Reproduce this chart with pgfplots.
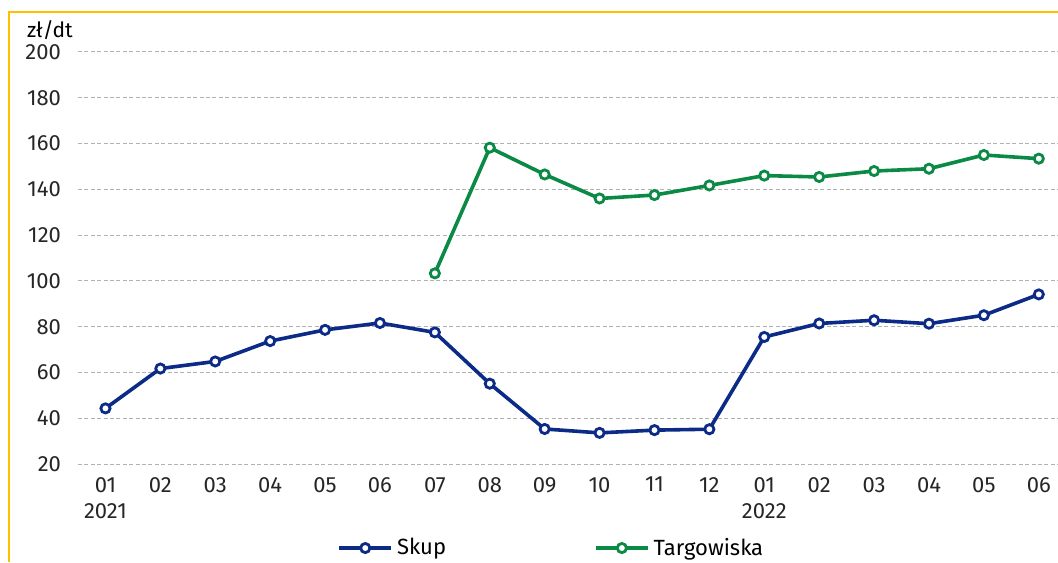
\documentclass[border=0pt]{standalone}
\usepackage{fontspec}
\setmainfont{Fira Sans}
\usepackage{pgfplots}
\pgfplotsset{compat=1.18}
\definecolor{skup}{HTML}{0B2B86}
\definecolor{targ}{HTML}{0A8A45}
\definecolor{framey}{HTML}{FFC000}
\begin{document}
\begin{tikzpicture}
\useasboundingbox (0,0) rectangle (529pt,281pt);
\draw[framey, line width=0.8pt] (4.5pt,0pt) -- (4.5pt,275pt) -- (529pt,275pt);
\node[font=\fontsize{10.5}{12}\selectfont, anchor=center] at (25pt,266pt) {zł/dt};
\begin{axis}[
  at={(39pt,49pt)}, anchor=south west,
  width=490pt, height=206pt, scale only axis,
  xmin=-0.5, xmax=17.35, ymin=20, ymax=200,
  ytick={20,40,...,200},
  xtick={0,...,17},
  xticklabels={{01\\2021},02,03,04,05,06,07,08,09,10,11,12,{01\\2022},02,03,04,05,06},
  x tick label style={align=center, anchor=north, yshift=-3pt},
  y tick label style={xshift=-5pt},
  /pgf/number format/assume math mode=true,
  tick label style={font=\fontsize{11}{13}\selectfont, text=black!85},
  ymajorgrids, grid style={dash pattern=on 2pt off 1.2pt, black!30, line width=0.5pt},
  axis line style={draw=none}, major tick length=0pt,
  clip=false,
  legend style={at={(0.484,-0.204)}, anchor=center, draw=none, fill=none,
    legend columns=2, font=\fontsize{11}{13}\selectfont,
    /tikz/every even column/.append style={column sep=72pt}},
  legend image code/.code={\draw[mark repeat=2,mark phase=2,#1] plot coordinates {(0pt,0pt) (13pt,0pt) (26pt,0pt)};},
]
\addplot[skup, line width=1.8pt, mark=*, mark size=2.3pt, mark options={fill=white, line width=1.4pt}]
 coordinates {(0,44.3) (1,61.7) (2,64.8) (3,73.7) (4,78.6) (5,81.6) (6,77.5) (7,55.1) (8,35.3) (9,33.6) (10,34.8) (11,35.2) (12,75.5) (13,81.4) (14,82.8) (15,81.3) (16,85.0) (17,94.1)};
\addlegendentry{Skup}
\addplot[targ, line width=1.8pt, mark=*, mark size=2.3pt, mark options={fill=white, line width=1.4pt}]
 coordinates {(6,103.3) (7,158.2) (8,146.5) (9,136.0) (10,137.5) (11,141.7) (12,146.0) (13,145.4) (14,148.0) (15,149.0) (16,155.0) (17,153.4)};
\addlegendentry{Targowiska}
\end{axis}
\end{tikzpicture}
\end{document}
